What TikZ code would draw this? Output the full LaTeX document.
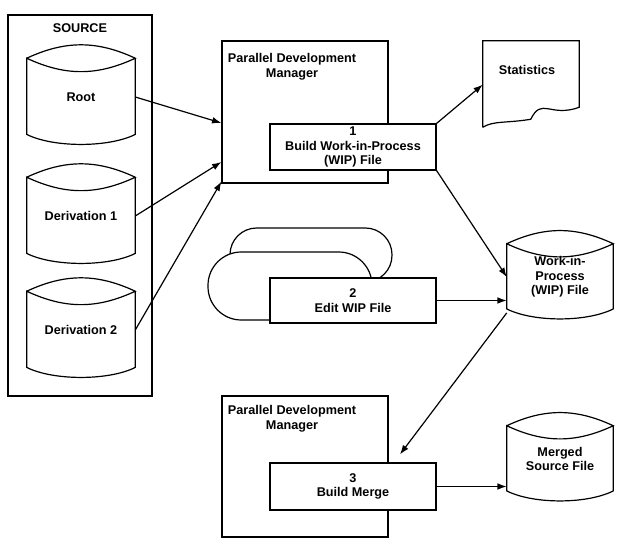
\documentclass[tikz,border=0pt]{standalone}
\usepackage{fontspec}
\setmainfont{Liberation Sans}
\usetikzlibrary{arrows.meta,calc,positioning}
\tikzstyle{l1}=[line width=0.9]
\tikzstyle{box}=[draw, l1, fill=white, align=center, inner sep=1pt]
\tikzstyle{cyl}=[align=center, inner sep=0pt]
\tikzstyle{txt}=[align=center, font=\bfseries\fontsize{9.5}{11}\selectfont]
\newcommand{\cylout}[1]{%
  \draw[l1] ([yshift=-6pt]#1.north west) to[out=25,in=155] ([yshift=-6pt]#1.north east)
    to[out=-155,in=-25] ([yshift=-6pt]#1.north west) -- ([yshift=7pt]#1.south west)
    .. controls ([xshift=20pt,yshift=-3pt]#1.south west) and ([xshift=-20pt,yshift=-3pt]#1.south east) ..
    ([yshift=7pt]#1.south east) -- ([yshift=-6pt]#1.north east);}

\begin{document}
\begin{tikzpicture}[x=0.75pt,y=-0.75pt,>={Latex[length=7pt,width=5pt]},every node/.style={txt}]
    \useasboundingbox (0,0) rectangle (621,545);
    % source store
    \node[box, minimum width=108pt, minimum height=285.75pt] (src) at (80,205.5) {};
    \node (srct) at (80,28) {SOURCE};
    \node[cyl, minimum width=81pt, minimum height=69.75pt] (root) at (81,97) {Root};
    \node[cyl, minimum width=81pt, minimum height=69.75pt] (der1) at (81,216) {Derivation 1};
    \node[cyl, minimum width=81pt, minimum height=69.75pt] (der2) at (81,330) {Derivation 2};
    \cylout{root} \cylout{der1} \cylout{der2}

    % step 1
    \node[box, minimum width=124.5pt, minimum height=106.5pt] (pdma) at (305,112) {};
    \node (pdmat) at (292,67) {Parallel Development\\Manager};
    \node[box, minimum width=124.5pt, minimum height=34.5pt] (build) at (353,147) {1\\Build Work-in-Process\\(WIP) File};

    % statistics report
    \node[cyl, minimum width=72pt, minimum height=55.5pt] (stats) at (531,78) {};
    \node (statst) at (527,70) {Statistics};
    \draw[l1] ([yshift=-9pt]stats.south west) -- (stats.north west) -- (stats.north east) -- ([yshift=6pt]stats.south east)
        .. controls ([xshift=-22pt,yshift=-2pt]stats.south east) and ([xshift=-28pt,yshift=14pt]stats.south east) ..
        ([xshift=36pt,yshift=-3pt]stats.south west)
        .. controls ([xshift=18pt,yshift=-6pt]stats.south west) and ([xshift=8pt,yshift=-4pt]stats.south west) ..
        ([yshift=-9pt]stats.south west);

    % step 2
    \draw[l1] (230,282) -- (230,255) [rounded corners=20pt] -- (230,228) -- (392,228) -- (392,282) -- cycle;
    \draw[l1, fill=white, rounded corners=25pt] (208,252) rectangle (372,320);
    \node[box, minimum width=124.5pt, minimum height=33.75pt] (edit) at (353,300.5) {2\\Edit WIP File};

    % work file
    \node[cyl, minimum width=79.5pt, minimum height=61.5pt] (wip) at (560,277) {Work-in-\\Process\\(WIP) File};
    \cylout{wip}

    % step 3
    \node[box, minimum width=124.5pt, minimum height=105.75pt] (pdmb) at (305,466.5) {};
    \node (pdmbt) at (292,419) {Parallel Development\\Manager};
    \node[box, minimum width=124.5pt, minimum height=35.25pt] (merge) at (353,486.5) {3\\Build Merge};
    \node[cyl, minimum width=79.5pt, minimum height=61.5pt] (mrg) at (560,459) {Merged\\Source File};
    \cylout{mrg}

    % connectors
    \draw[l1, ->] (root.east) -- ([yshift=-8.25pt]pdma.west);
    \draw[l1, ->] (der1.east) -- ([yshift=-37.5pt]pdma.west);
    \draw[l1, ->] (der2.east) -- ([yshift=1.5pt]pdma.south west);
    \draw[l1, ->] (build.north east) -- ([yshift=-5pt]stats.west);
    \draw[l1, ->] (build.south east) -- (wip.west);
    \draw[l1, ->] (edit.east) -- (edit.east -| wip.west);
    \coordinate (mtop) at ($(merge.north)+(47,-8)$);
    \draw[l1, ->] ([yshift=4pt]wip.south west) -- (mtop);
    \draw[l1, ->] (merge.east) -- (merge.east -| mrg.west);
\end{tikzpicture}
\end{document}
